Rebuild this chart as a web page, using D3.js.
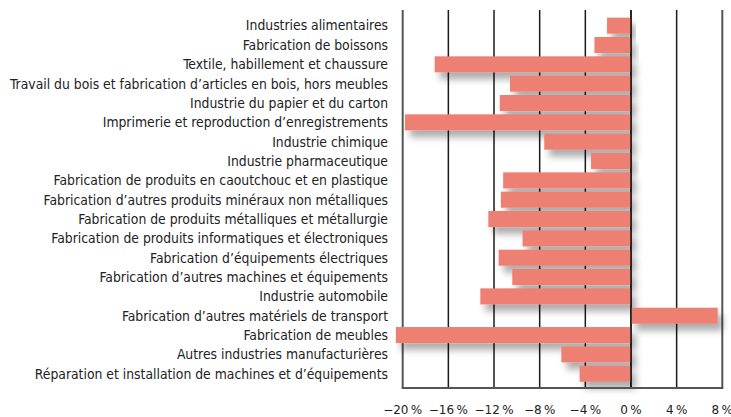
<!DOCTYPE html>
<html>
<head>
<meta charset="utf-8">
<script src="https://cdn.jsdelivr.net/npm/d3@7"></script>
<style>
  body { margin: 0; background: #fff; }
  svg { display: block; }
</style>
</head>
<body>
<div id="chart"></div>
<script>
let categories = [
    'Industries alimentaires',
    'Fabrication de boissons',
    'Textile, habillement et chaussure',
    'Travail du bois et fabrication d\u2019articles en bois, hors meubles',
    'Industrie du papier et du carton',
    'Imprimerie et reproduction d\u2019enregistrements',
    'Industrie chimique',
    'Industrie pharmaceutique',
    'Fabrication de produits en caoutchouc et en plastique',
    'Fabrication d\u2019autres produits min\u00e9raux non m\u00e9talliques',
    'Fabrication de produits m\u00e9talliques et m\u00e9tallurgie',
    'Fabrication de produits informatiques et \u00e9lectroniques',
    'Fabrication d\u2019\u00e9quipements \u00e9lectriques',
    'Fabrication d\u2019autres machines et \u00e9quipements',
    'Industrie automobile',
    'Fabrication d\u2019autres mat\u00e9riels de transport',
    'Fabrication de meubles',
    'Autres industries manufacturi\u00e8res',
    'R\u00e9paration et installation de machines et d\u2019\u00e9quipements'
];
let values = [-2.1, -3.2, -17.2, -10.6, -11.5, -19.8, -7.6, -3.5, -11.2, -11.4,
    -12.5, -9.5, -11.6, -10.4, -13.2, 7.6, -20.6, -6.1, -4.5];
let ticks = [-20, -16, -12, -8, -4, 0, 4, 8];

let width = 731, height = 417;
let labelFont = '"DejaVu Sans Condensed", "Liberation Sans Narrow", sans-serif';
let tickFont = '"DejaVu Sans", sans-serif';
let svg = d3.select('#chart').append('svg').attr('width', width).attr('height', height);

let defs = svg.append('defs');
let filter = defs.append('filter').attr('id', 'shadow')
    .attr('x', '-20%').attr('y', '-50%').attr('width', '140%').attr('height', '250%');
filter.append('feDropShadow')
    .attr('dx', 5).attr('dy', 7).attr('stdDeviation', 3.5)
    .attr('flood-color', '#000').attr('flood-opacity', 0.32);

let x = d3.scaleLinear().domain([-20, 8]).range([402.7, 722.3]);
let y = d3.scaleBand().domain(categories).range([16, 383.4]).paddingInner(0.17).paddingOuter(0.085);

let frameTop = 10, frameBottom = 388;

// gridlines
svg.append('g').selectAll('line').data(ticks).enter().append('line')
    .attr('x1', d => x(d)).attr('x2', d => x(d))
    .attr('y1', frameTop).attr('y2', frameBottom)
    .attr('stroke', d => (d === -20 || d === 8) ? '#555' : '#1a1a1a')
    .attr('stroke-width', d => (d === -20 || d === 8) ? 2 : 1.5);

// bars
let data = categories.map((c, i) => ({ name: c, value: values[i] }));
svg.append('g').selectAll('rect').data(data).enter().append('rect')
    .attr('x', d => x(Math.min(0, d.value)))
    .attr('width', d => Math.abs(x(d.value) - x(0)))
    .attr('y', d => y(d.name))
    .attr('height', y.bandwidth())
    .attr('fill', '#ee8073')
    .attr('filter', 'url(#shadow)');

// zero line on top
svg.append('line')
    .attr('x1', x(0)).attr('x2', x(0)).attr('y1', frameTop).attr('y2', frameBottom)
    .attr('stroke', '#1a1a1a').attr('stroke-width', 1.5);

// bottom axis line
svg.append('line')
    .attr('x1', x(-20) - 1).attr('x2', x(8) + 1).attr('y1', frameBottom).attr('y2', frameBottom)
    .attr('stroke', '#555').attr('stroke-width', 2);

// category labels
svg.append('g').selectAll('text').data(categories).enter().append('text')
    .attr('x', 388)
    .attr('y', d => y(d) + y.bandwidth() / 2)
    .attr('dy', '0.35em')
    .attr('text-anchor', 'end')
    .attr('font-family', labelFont)
    .attr('font-size', 13.8)
    .attr('fill', '#222')
    .text(d => d);

// tick labels
svg.append('g').selectAll('text').data(ticks).enter().append('text')
    .attr('x', d => x(d))
    .attr('y', 414)
    .attr('text-anchor', 'middle')
    .attr('font-family', tickFont)
    .attr('font-size', 12)
    .attr('fill', '#222')
    .text(d => (d < 0 ? '\u2212' + Math.abs(d) : d) + '\u202f%');
</script>
</body>
</html>
